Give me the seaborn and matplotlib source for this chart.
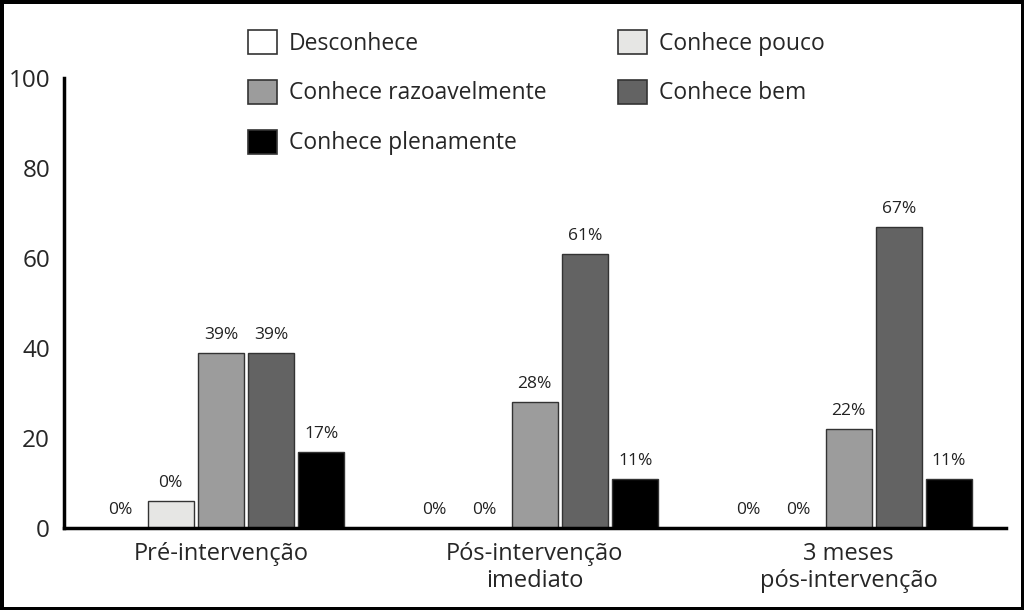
import pandas as pd
import matplotlib
matplotlib.use('Agg')
import matplotlib.pyplot as plt
from matplotlib.patches import Patch
import seaborn as sns

# Data
groups = ['Pré-intervenção', 'Pós-intervenção\nimediato', '3 meses\npós-intervenção']
levels = ['Desconhece', 'Conhece pouco', 'Conhece razoavelmente', 'Conhece bem', 'Conhece plenamente']
desconhece = [0, 0, 0]
conhece_pouco = [6, 0, 0]
conhece_razoavelmente = [39, 28, 22]
conhece_bem = [39, 61, 67]
conhece_plenamente = [17, 11, 11]
# printed labels (the small "Conhece pouco" bar is labelled 0% in the source)
bar_texts = [
    ['0%', '0%', '0%'],
    ['0%', '0%', '0%'],
    ['39%', '28%', '22%'],
    ['39%', '61%', '67%'],
    ['17%', '11%', '11%'],
]
colors = ['#ffffff', '#e6e6e4', '#9c9c9c', '#636363', '#000000']

series = [desconhece, conhece_pouco, conhece_razoavelmente, conhece_bem, conhece_plenamente]
rows = []
for lvl, vals in zip(levels, series):
    for g, v in zip(groups, vals):
        rows.append({'Grupo': g, 'Nivel': lvl, 'Valor': v})
df = pd.DataFrame(rows)

sns.set_style('white')
plt.rcParams['font.family'] = ['Open Sans', 'DejaVu Sans']

fig = plt.figure(figsize=(10.24, 6.1), dpi=100, edgecolor='black', linewidth=5)
ax = fig.add_axes([0.0625, 0.1344, 0.9195, 0.7376])

sns.barplot(data=df, x='Grupo', y='Valor', hue='Nivel', order=groups, hue_order=levels,
            palette=colors, width=0.8, gap=0.08, edgecolor='#333333', linewidth=1,
            legend=False, ax=ax)

for cont, texts in zip(ax.containers, bar_texts):
    ax.bar_label(cont, labels=texts, padding=7, fontsize=12.5, color='#222222')

ax.set_ylim(0, 100)
ax.set_xlim(-0.5, 2.5)
ax.set_yticks([0, 20, 40, 60, 80, 100])
ax.tick_params(axis='y', direction='in', length=17, width=2.5, labelsize=17.5, pad=10)
ax.tick_params(axis='x', length=0, labelsize=17, pad=10)
for lbl in ax.get_xticklabels():
    lbl.set_linespacing(1.15)
ax.set_xticks([0.5, 1.5, 2.5], minor=True)
ax.tick_params(axis='x', which='minor', direction='in', length=7, width=2.5)
ax.set_xlabel('')
ax.set_ylabel('')
for s in ['top', 'right']:
    ax.spines[s].set_visible(False)
for s in ['left', 'bottom']:
    ax.spines[s].set_linewidth(2.5)
    ax.spines[s].set_color('black')

handles = [Patch(facecolor=c, edgecolor='#333333', linewidth=1.2, label=l) for c, l in zip(colors, levels)]
order = [0, 2, 4, 1, 3]
fig.legend([handles[i] for i in order], [levels[i] for i in order], ncol=2,
           loc='upper left', bbox_to_anchor=(0.222, 0.985), frameon=False, fontsize=16.5,
           handlelength=1.25, handleheight=1.25, handletextpad=0.55, labelspacing=1.05,
           columnspacing=3.1)

plt.savefig('out.png', dpi=100)
